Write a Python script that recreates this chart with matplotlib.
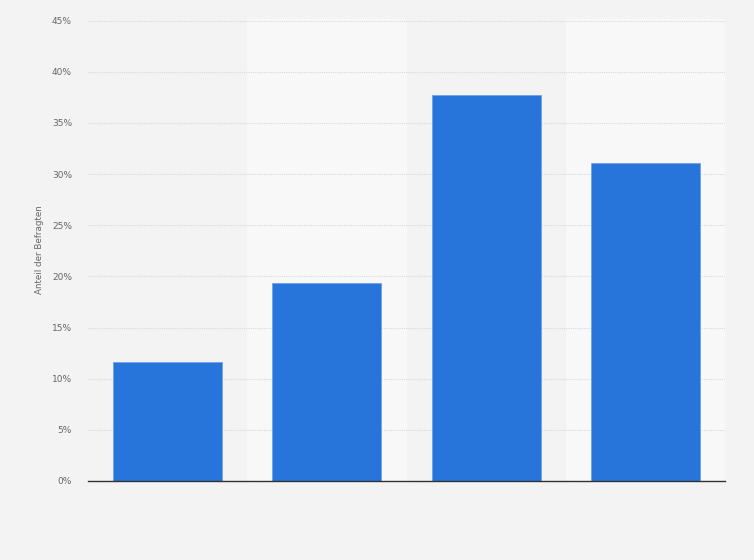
import matplotlib
matplotlib.use("Agg")
import matplotlib.pyplot as plt
from matplotlib.ticker import FuncFormatter

# values (percent of respondents)
categories = ["A", "B", "C", "D"]
shares = [11.6, 19.3, 37.7, 31.1]
yticks = [0, 5, 10, 15, 20, 25, 30, 35, 40, 45]

BAR = "#2775db"
BG = "#f3f3f3"
BAND_DARK = "#f3f3f3"
BAND_LIGHT = "#f8f8f8"

plt.rcParams.update({"font.family": "DejaVu Sans"})

W, H = 754, 560
YMAX = 45.1
px_per_unit = (481 - 20.5) / 45
fig = plt.figure(figsize=(W / 100, H / 100), dpi=100, facecolor=BG)
ax = fig.add_axes([88 / W, (H - 481) / H, (725 - 88) / W,
                   YMAX * px_per_unit / H])
ax.set_facecolor(BAND_DARK)

x = list(range(len(categories)))
# alternating column bands
for i in x:
    ax.axvspan(i - 0.5, i + 0.5, color=BAND_LIGHT if i % 2 else BAND_DARK,
               zorder=0, lw=0)

ax.bar(x, shares, width=0.685, color=BAR, edgecolor="#6fa2e6", linewidth=0.6,
       zorder=3)

ax.set_xlim(-0.5, len(categories) - 0.5)
ax.set_ylim(0, YMAX)
ax.set_yticks(yticks)
ax.yaxis.set_major_formatter(FuncFormatter(lambda v, _: f"{v:.0f}%"))
ax.set_xticks([])
ax.grid(axis="y", color="#d9d9d9", linestyle=(0, (1, 1)), linewidth=0.8,
        zorder=1)
ax.tick_params(axis="y", length=0, pad=11.5, labelsize=6.5, labelcolor="#666666")

for s in ("top", "right", "left"):
    ax.spines[s].set_visible(False)
ax.spines["bottom"].set_color("#333333")
ax.spines["bottom"].set_linewidth(1.0)
ax.spines["bottom"].set_zorder(4)

fig.text(40 / W, (H - 250) / H, "Anteil der Befragten", rotation=90,
         ha="center", va="center", fontsize=6.3, color="#666666")

fig.savefig("out.png", dpi=100, facecolor=BG)
plt.close(fig)
